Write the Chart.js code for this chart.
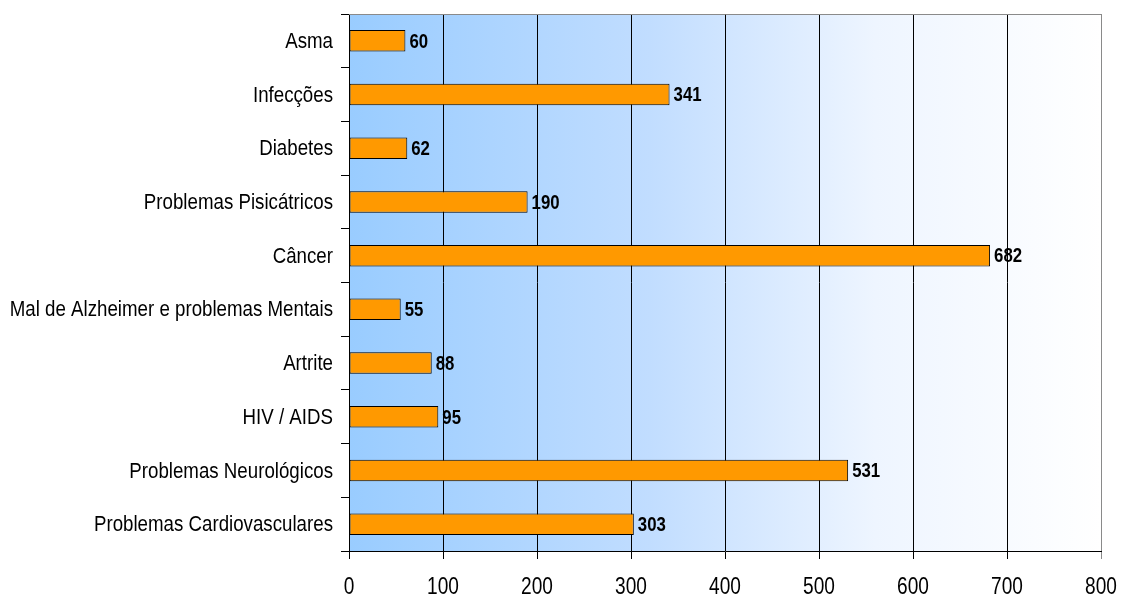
<!DOCTYPE html>
<html>
<head>
<meta charset="utf-8">
<script src="https://cdn.jsdelivr.net/npm/chart.js"></script>
<style>
  html, body { margin: 0; padding: 0; background: #fff; }
  canvas { display: block; }
</style>
</head>
<body>
<canvas id="doencas" width="1122" height="597"></canvas>
<script>
const categorias = ['Asma', 'Infecções', 'Diabetes', 'Problemas Pisicátricos', 'Câncer',
    'Mal de Alzheimer e problemas Mentais', 'Artrite', 'HIV / AIDS',
    'Problemas Neurológicos', 'Problemas Cardiovasculares'];
const valores = [60, 341, 62, 190, 682, 55, 88, 95, 531, 303];
const xTicks = [0, 100, 200, 300, 400, 500, 600, 700, 800];

const FONTE = "'Liberation Sans', Arial, sans-serif";

// narrow text: regular face squeezed horizontally
function textoEstreito(ctx, txt, x, y, font, sx, align) {
    ctx.save();
    ctx.font = font;
    ctx.textAlign = align;
    ctx.textBaseline = 'middle';
    ctx.fillStyle = '#000';
    ctx.translate(x, y);
    ctx.scale(sx, 1);
    ctx.fillText(txt, 0, 0);
    ctx.restore();
}

// gradient behind the bars + gray frame on top/right
const fundo = {
    id: 'fundo',
    beforeDraw(chart) {
        const { ctx, chartArea: a } = chart;
        const g = ctx.createLinearGradient(a.left, 0, a.right, 0);
        g.addColorStop(0, '#99ccff');
        g.addColorStop(0.4, '#c1ddff');
        g.addColorStop(0.7, '#eef5ff');
        g.addColorStop(1, '#ffffff');
        ctx.save();
        ctx.fillStyle = g;
        ctx.fillRect(a.left, a.top, a.right - a.left, a.bottom - a.top);
        ctx.restore();
    },
    afterDraw(chart) {
        const { ctx, chartArea: a, scales } = chart;
        ctx.save();
        ctx.strokeStyle = '#8a8a8a';
        ctx.lineWidth = 1;
        ctx.beginPath();
        ctx.moveTo(a.left, a.top + 0.5);
        ctx.lineTo(a.right + 0.5, a.top + 0.5);
        ctx.lineTo(a.right + 0.5, a.bottom);
        ctx.stroke();
        ctx.restore();

        // axis labels
        categorias.forEach((c, i) => {
            textoEstreito(ctx, c, a.left - 16, scales.y.getPixelForTick(i) + 1,
                '22px ' + FONTE, 0.85, 'right');
        });
        xTicks.forEach(v => {
            textoEstreito(ctx, String(v), scales.x.getPixelForValue(v), a.bottom + 37,
                '23px ' + FONTE, 0.83, 'center');
        });
    }
};

// value printed just after the end of each bar
const rotulos = {
    id: 'rotulos',
    afterDatasetsDraw(chart) {
        const { ctx } = chart;
        const meta = chart.getDatasetMeta(0);
        meta.data.forEach((bar, i) => {
            textoEstreito(ctx, String(valores[i]), bar.x + 4, bar.y + 1,
                'bold 21px ' + FONTE, 0.8, 'left');
        });
    }
};

new Chart(document.getElementById('doencas'), {
    type: 'bar',
    data: {
        labels: categorias,
        datasets: [{
            data: valores,
            backgroundColor: '#ff9900',
            borderColor: '#000',
            borderWidth: 1,
            borderSkipped: false,
            categoryPercentage: 1,
            barPercentage: 0.4
        }]
    },
    options: {
        indexAxis: 'y',
        responsive: false,
        animation: false,
        devicePixelRatio: 1,
        layout: { padding: { top: 14, right: 21, left: 0, bottom: 0 } },
        plugins: { legend: { display: false }, tooltip: { enabled: false } },
        scales: {
            x: {
                min: 0,
                max: 800,
                afterBuildTicks: s => { s.ticks = xTicks.map(v => ({ value: v })); },
                afterFit: s => { s.height = 46; },
                grid: {
                    color: c => c.tick && c.tick.value === 800 ? '#8a8a8a' : '#000',
                    lineWidth: 1,
                    tickLength: 8
                },
                border: { color: '#000' },
                ticks: { display: false }
            },
            y: {
                afterFit: s => { s.width = 349; },
                grid: { offset: true, drawOnChartArea: false, color: '#000', tickLength: 8 },
                border: { color: '#000' },
                ticks: { display: false }
            }
        }
    },
    plugins: [fundo, rotulos]
});
</script>
</body>
</html>
